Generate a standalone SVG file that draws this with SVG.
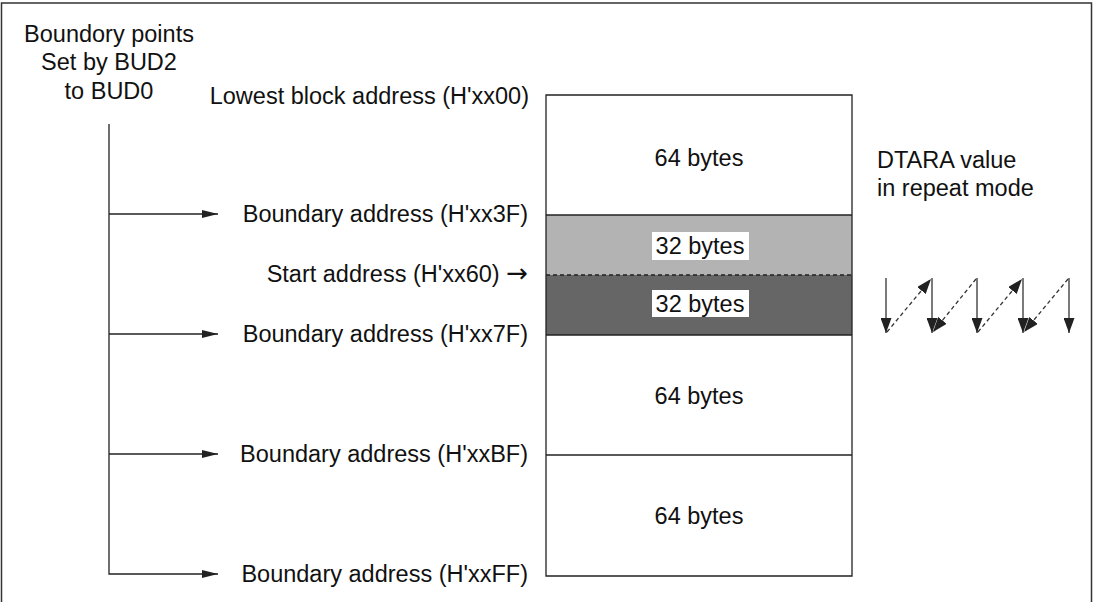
<svg xmlns="http://www.w3.org/2000/svg" width="1093" height="602" viewBox="0 0 1093 602">
<style>
text{font-family:"Liberation Sans",Arial,sans-serif;font-size:23.5px;fill:#111}
.ln{stroke:#222;stroke-width:1.3;fill:none}
.mid{text-anchor:middle}
.end{text-anchor:end}
.arw{font-family:"DejaVu Sans",sans-serif;font-size:26px}
</style>
<defs>
<marker id="ah" viewBox="0 0 16 8" refX="16" refY="4" markerWidth="16" markerHeight="8" markerUnits="userSpaceOnUse" orient="auto">
<path d="M0,0 L16,4 L0,8 Z" fill="#222"/>
</marker>
<marker id="ah2" viewBox="0 0 15 11" refX="15" refY="5.5" markerWidth="15" markerHeight="11" markerUnits="userSpaceOnUse" orient="auto">
<path d="M0,0 L15,5.5 L0,11 Z" fill="#222"/>
</marker>
</defs>
<rect x="1.5" y="3" width="1090" height="610" fill="#fff" stroke="#333" stroke-width="1.5"/>
<g id="title">
<text class="mid" x="109" y="42">Boundory points</text>
<text class="mid" x="109" y="70">Set by BUD2</text>
<text class="mid" x="109" y="99">to BUD0</text>
</g>
<g id="memory">
<rect x="546" y="215" width="306" height="60" fill="#b3b3b3"/>
<rect x="546" y="275" width="306" height="60" fill="#666"/>
<path class="ln" d="M546,95 H852 V576 H546 Z"/>
<line class="ln" x1="546" y1="215" x2="852" y2="215"/>
<line class="ln" x1="546" y1="275" x2="852" y2="275" stroke-dasharray="4,3"/>
<line class="ln" x1="546" y1="335" x2="852" y2="335"/>
<line class="ln" x1="546" y1="455" x2="852" y2="455"/>
<text class="mid" x="699" y="166">64 bytes</text>
<rect x="652" y="232" width="97" height="28" fill="#fff"/>
<text class="mid" x="700" y="254">32 bytes</text>
<rect x="652" y="290" width="97" height="27" fill="#fff"/>
<text class="mid" x="700" y="312">32 bytes</text>
<text class="mid" x="699" y="404">64 bytes</text>
<text class="mid" x="699" y="524">64 bytes</text>
</g>
<g id="labels">
<text class="end" x="529" y="104">Lowest block address (H'xx00)</text>
<text class="end" x="528" y="222">Boundary address (H'xx3F)</text>
<text class="end" x="528" y="282">Start address (H'xx60) <tspan class="arw">→</tspan></text>
<text class="end" x="528" y="342">Boundary address (H'xx7F)</text>
<text class="end" x="528" y="462">Boundary address (H'xxBF)</text>
<text class="end" x="528" y="582">Boundary address (H'xxFF)</text>
</g>
<g id="dtara">
<text x="877" y="168">DTARA value</text>
<text x="877" y="196">in repeat mode</text>
</g>
<g id="connectors">
<path class="ln" d="M109,124 V574 H218" marker-end="url(#ah)"/>
<line class="ln" x1="109" y1="214" x2="218" y2="214" marker-end="url(#ah)"/>
<line class="ln" x1="109" y1="334" x2="218" y2="334" marker-end="url(#ah)"/>
<line class="ln" x1="109" y1="454" x2="218" y2="454" marker-end="url(#ah)"/>
<g stroke="#333" stroke-width="1.3" fill="none">
<line x1="886" y1="278" x2="886" y2="333" marker-end="url(#ah2)"/>
<line x1="932" y1="278" x2="932" y2="333" marker-end="url(#ah2)"/>
<line x1="977" y1="278" x2="977" y2="333" marker-end="url(#ah2)"/>
<line x1="1023" y1="278" x2="1023" y2="333" marker-end="url(#ah2)"/>
<line x1="1069" y1="278" x2="1069" y2="333" marker-end="url(#ah2)"/>
<g stroke-dasharray="4,3">
<line x1="887" y1="332" x2="931" y2="279" marker-end="url(#ah2)"/>
<line x1="976" y1="279" x2="933" y2="332" marker-end="url(#ah2)"/>
<line x1="978" y1="332" x2="1022" y2="279" marker-end="url(#ah2)"/>
<line x1="1068" y1="279" x2="1024" y2="332" marker-end="url(#ah2)"/>
</g>
</g>
</g>
</svg>
